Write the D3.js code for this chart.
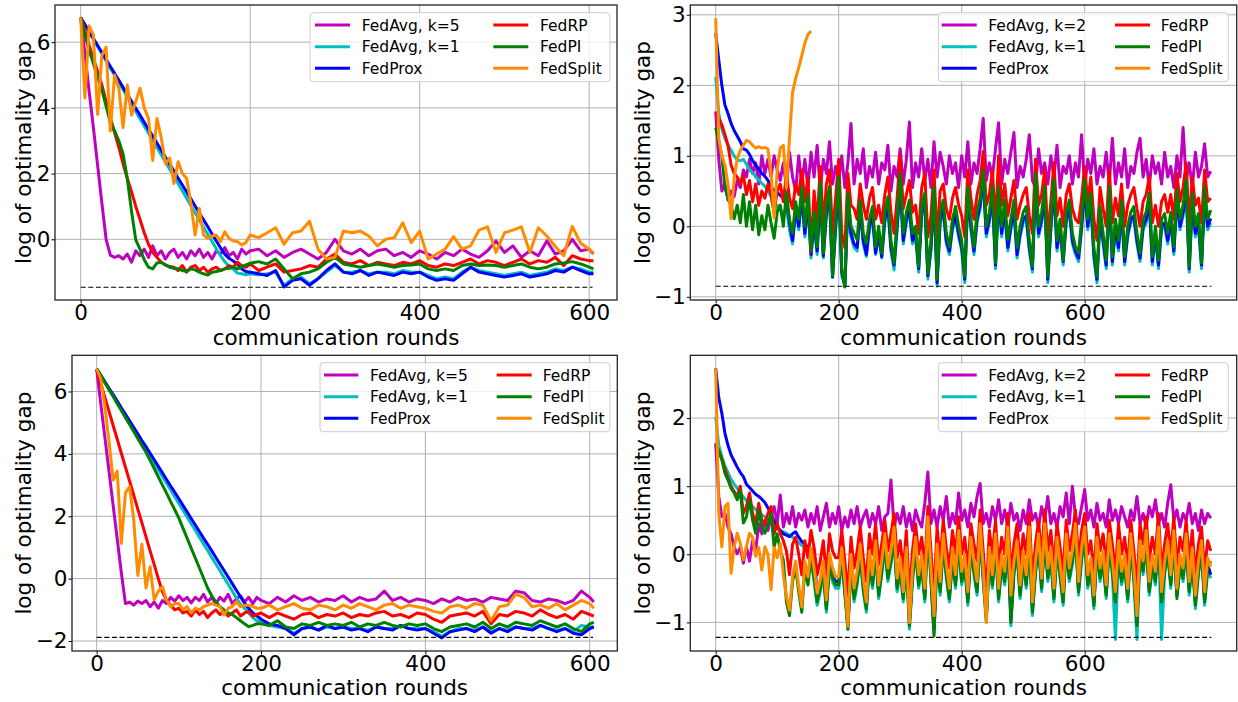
<!DOCTYPE html>
<html><head><meta charset="utf-8">
<script src="https://cdn.jsdelivr.net/npm/d3@7"></script>
<style>body{margin:0;background:#fff}svg{display:block}</style>
</head><body>
<svg id="c" width="1238" height="702"></svg>
<script>
// ---------- rounds (x positions of the samples) ----------
const roundsA = [...d3.range(0,200,5), ...d3.range(200,601,10), 605];
const roundsB = d3.range(0,806,5);
const xTicks = [0,200,400,600];
const labelsK5 = ["FedAvg, k=5","FedAvg, k=1","FedProx","FedRP","FedPI","FedSplit"];
const labelsK2 = ["FedAvg, k=2","FedAvg, k=1","FedProx","FedRP","FedPI","FedSplit"];
const optTL=-1.46, optTR=-0.85, optBL=-1.88, optBR=-1.22;

// ---------- top-left ----------
const tlFedAvgK=[6.75,5.65,4.5,3.4,2.25,1.1,0,-.48,-.55,-.5,
-.6,-.45,-.7,-.35,-.5,-.3,-.55,-.2,-.5,-.35,
-.6,-.4,-.3,-.55,-.4,-.6,-.35,-.5,-.3,-.55,
-.4,-.6,-.35,-.45,-.25,-.5,-.4,-.6,-.3,-.45,
-.35,-.3,-.5,-.35,-.55,-.4,-.3,-.45,-.6,-.4,
0,-.35,-.45,-.3,-.5,-.35,-.3,-.5,-.4,-.55,
-.35,-.45,-.6,-.4,-.5,-.3,-.45,-.55,-.35,-.05,
-.4,-.2,-.55,-.35,-.5,-.05,-.45,-.35,0,-.35,
-.3,-.45];
const tlFedAvg1=[6.75,6.53,6.31,6.09,5.87,5.65,5.43,5.21,4.99,4.77,
4.55,4.33,4.11,3.89,3.67,3.45,3.23,3.01,2.79,2.57,
2.35,2.13,1.91,1.69,1.47,1.25,1.03,.81,.59,.37,
.15,-.07,-.29,-.5,-.68,-.82,-.9,-1.03,-1.05,-1.08,
-1.05,-1.08,-1.05,-1,-1.4,-1.2,-1.15,-1.35,-1.2,-1,
-.8,-1,-1,-.95,-1.05,-1,-1,-1.05,-.95,-1,
-1,-1.1,-1.2,-1.15,-1.2,-1,-.85,-.95,-1,-1.05,
-1.1,-1.05,-1,-1.1,-1.05,-1,-.9,-.95,-.85,-.9,
-1,-1];
const tlFedProx=[6.75,6.54,6.33,6.11,5.9,5.69,5.48,5.26,5.05,4.84,
4.63,4.41,4.2,3.99,3.78,3.56,3.35,3.14,2.93,2.71,
2.5,2.29,2.08,1.86,1.65,1.44,1.23,1.01,.8,.59,
.38,.16,-.05,-.26,-.45,-.58,-.66,-.76,-.9,-.98,
-1,-1.05,-1.1,-.95,-1.45,-1.25,-1.2,-1.4,-1.2,-.95,
-.75,-1,-1.05,-.95,-1.1,-1,-1.05,-1.1,-1,-1.05,
-1,-1.15,-1.25,-1.2,-1.25,-1.05,-.85,-1,-1.05,-1.1,
-1.15,-1.1,-1.05,-1.15,-1.1,-1.05,-.95,-1,-.85,-.95,
-1.05,-1.05];
const tlFedRP=[6.75,6.35,5.9,5.5,5.1,4.7,4.2,3.7,3.25,2.8,
2.3,1.85,1.45,1,.6,.2,-.15,-.4,-.55,-.7,
-.78,-.83,-.85,-.95,-.8,-1,-.85,-.8,-.95,-.85,
-1,-.9,-.85,-.95,-.9,-.8,-.85,-.7,-.8,-.85,
-.75,-.95,-.85,-.75,-1,-.95,-.9,-.8,-.85,-.6,
-.45,-.7,-.75,-.65,-.8,-.7,-.75,-.8,-.7,-.75,
-.65,-.8,-.85,-.75,-.8,-.7,-.6,-.75,-.65,-.7,
-.8,-.7,-.6,-.75,-.65,-.7,-.55,-.8,-.5,-.6,
-.65,-.65];
const tlFedPI=[6.75,6.2,5.75,5.35,4.95,4.55,4.05,3.55,3.3,3,
2.6,1.85,.85,-.02,-.3,-.62,-.85,-.9,-.72,-.7,
-.78,-.85,-.88,-.9,-.95,-.98,-.9,-.93,-1,-1.05,
-1.09,-1,-.98,-.95,-.9,-.88,-.85,-.9,-.83,-.78,
-.73,-.68,-.75,-.6,-.9,-1.2,-1.05,-1,-.9,-.7,
-.55,-.75,-.8,-.85,-.8,-.75,-.8,-.85,-.8,-.78,
-.75,-.9,-.95,-.9,-.95,-.8,-.75,-.8,-.78,-.8,
-.85,-.8,-.75,-.85,-.9,-.85,-.75,-.72,-.68,-.75,
-.85,-.9];
const tlFedSplit=[6.75,4.3,6.5,6.22,3.8,5.6,5.85,3.3,5,4.6,
3.4,4.7,3.78,4.2,4.6,4,3.68,2.4,3.68,3.1,
2.3,2.47,1.7,2.36,2,1.86,1.1,.13,.94,.13,
.03,.1,.13,-.07,.23,.03,-.05,-.07,-.17,-.1,
.13,.05,.2,.35,-.15,.2,.25,.55,-.3,-.6,
-.55,.25,.2,.25,.1,-.2,0,.05,.5,-.1,
.25,-.6,-.45,-.3,.08,-.3,-.2,.28,.38,-.4,
.2,.28,.38,-.4,.35,.1,-.22,-.5,.39,-.12,
-.3,-.43];

// ---------- bottom-left ----------
const blFedAvgK=[6.7,5.6,4.52,3.44,2.35,1.27,.18,-.8,-.75,-.85,
-.72,-.8,-.7,-.9,-.75,-.95,-.7,-.8,-.6,-.72,
-.55,-.7,-.6,-.78,-.6,-.7,-.5,-.75,-.6,-.8,
-.6,-.72,-.5,-.8,-.65,-.55,-.75,-.6,-.8,-.6,
-.7,-.8,-.6,-.75,-.55,-.7,-.6,-.75,-.65,-.7,
-.55,-.75,-.6,-.7,-.65,-.4,-.7,-.6,-.75,-.65,
-.7,-.8,-.65,-.75,-.6,-.7,-.65,-.75,-.6,-.65,
-.7,-.4,-.45,-.7,-.75,-.65,-.7,-.8,-.7,-.4,
-.6,-.75];
const blFedAvg1=[6.73,6.51,6.3,6.08,5.87,5.65,5.43,5.22,5,4.79,
4.57,4.35,4.14,3.92,3.71,3.49,3.27,3.06,2.84,2.63,
2.41,2.19,1.98,1.76,1.55,1.33,1.11,.9,.68,.47,
.25,.03,-.18,-.4,-.62,-.83,-.95,-1.1,-1.25,-1.35,
-1.4,-1.5,-1.55,-1.6,-1.75,-1.6,-1.55,-1.65,-1.55,-1.6,
-1.55,-1.6,-1.6,-1.65,-1.55,-1.6,-1.6,-1.5,-1.6,-1.6,
-1.6,-1.7,-1.85,-1.7,-1.6,-1.6,-1.65,-1.55,-1.7,-1.6,
-1.65,-1.55,-1.6,-1.6,-1.5,-1.6,-1.65,-1.6,-1.7,-1.5,
-1.55,-1.55];
const blFedProx=[6.73,6.52,6.31,6.1,5.9,5.69,5.48,5.27,5.06,4.85,
4.64,4.43,4.23,4.02,3.81,3.6,3.39,3.18,2.97,2.77,
2.56,2.35,2.14,1.93,1.72,1.51,1.3,1.1,.89,.68,
.47,.26,.05,-.16,-.37,-.58,-.79,-.95,-1.1,-1.2,
-1.3,-1.45,-1.5,-1.6,-1.8,-1.6,-1.55,-1.65,-1.5,-1.6,
-1.55,-1.65,-1.6,-1.7,-1.55,-1.6,-1.65,-1.5,-1.6,-1.65,
-1.6,-1.75,-1.9,-1.7,-1.65,-1.6,-1.7,-1.55,-1.75,-1.6,
-1.7,-1.55,-1.6,-1.65,-1.5,-1.6,-1.7,-1.6,-1.75,-1.8,
-1.6,-1.55];
const blFedRP=[6.7,6.25,5.81,5.36,4.91,4.47,4.02,3.57,3.13,2.68,
2.23,1.79,1.34,.89,.45,0,-.42,-.7,-.85,-1,
-.95,-1.1,-1.05,-1.2,-1,-1.15,-1.05,-1.25,-1.1,-1,
-1.15,-1.05,-1.2,-1.1,-1,-1.2,-1.1,-1.05,-1.2,-1.15,
-1.1,-1.25,-1.1,-1.2,-1.3,-1.15,-1.1,-1.25,-1.15,-1.2,
-1.1,-1.25,-1.15,-1.2,-1.1,-1.05,-1.2,-1.15,-1.25,-1.1,
-1.15,-1.3,-1.4,-1.2,-1.15,-1.1,-1.2,-1.05,-1.45,-1.15,
-1.2,-1.05,-1.1,-1.2,-1,-1.15,-1.25,-1.15,-1.3,-1.05,
-1.15,-1.2];
const blFedPI=[6.73,6.51,6.28,6.06,5.84,5.61,5.39,5.16,4.94,4.72,
4.49,4.27,4.05,3.79,3.53,3.26,3,2.74,2.47,2.21,
1.94,1.62,1.3,.98,.66,.34,.02,-.3,-.55,-.75,
-.9,-1,-1.1,-1.15,-1.25,-1.35,-1.45,-1.54,-1.5,-1.45,
-1.45,-1.5,-1.35,-1.55,-1.6,-1.45,-1.5,-1.4,-1.5,-1.45,
-1.5,-1.4,-1.55,-1.45,-1.5,-1.4,-1.5,-1.55,-1.45,-1.5,
-1.45,-1.6,-1.7,-1.55,-1.5,-1.45,-1.55,-1.4,-1.6,-1.45,
-1.55,-1.4,-1.45,-1.5,-1.35,-1.45,-1.55,-1.45,-1.6,-1.7,
-1.45,-1.4];
const blFedSplit=[6.73,6.4,5.5,4.4,3.16,3.45,1.13,2.75,2.95,1.9,
.1,1.1,-.3,.38,-.68,-.4,-.26,-.68,-.9,-.8,
-.8,-1,-.9,-1.1,-.95,-1,-.9,-.85,-.8,-.85,
-.9,-1.16,-.95,-.9,-.74,-.9,-.85,-.85,-.9,-.95,
-.95,-.85,-1,-.9,-.8,-.95,-1,-.85,-.9,-1,
-.85,-.95,-.8,-.9,-1,-.85,-.8,-.95,-.85,-.9,
-.95,-1.05,-1.1,-.9,-.85,-.95,-.8,-.85,-1.35,-.9,
-.85,-.5,-.6,-.9,-.85,-.95,-.8,-1,-.85,-.7,
-.8,-.95];

// ---------- top-right ----------
const trFedAvgK=[1.63,.95,.5,.6,.37,.5,.42,.65,.55,.8,
.7,.95,.75,.9,.6,1,.75,.95,.7,1,
.8,.65,.9,.55,1.05,.7,.5,1,.6,.95,
.55,1.05,.7,1.15,.5,.95,.75,1.2,.6,.85,
.65,1,.55,.9,1.46,.6,.95,.75,1.1,.55,
.85,.7,1.05,.6,.9,.8,1.15,.5,.85,.7,
1.1,.6,.95,1.48,.55,.9,.7,1.1,.65,.95,
.55,1.2,.7,1.05,.85,.6,1,.75,.9,.55,
1,.7,1.2,.6,.9,.75,1.1,1.53,.65,.9,
.7,1.1,1.47,.6,.95,.75,1.05,1.33,.55,.85,
.7,.95,1.3,.65,.55,1.1,.75,.9,.6,1,
.7,1.15,.55,.85,.75,1,.6,.9,.7,1.3,
.55,.95,.75,1.1,.6,.85,.7,1.05,.6,1.25,
.6,.9,.7,1.1,.55,.85,.75,1.05,1.25,.7,
.95,.55,1,.75,.9,.6,1.05,.7,.85,.55,
1,.7,1.4,.65,.9,.55,1.05,.7,.85,1.17,
.7,.78];
const trFedAvg1=[2.12,1.6,1.38,1.25,1.15,1.08,1,.94,.93,.95,
.88,.8,.76,.7,.66,.61,.57,.5,.42,.2,
.3,.25,.15,.28,-.05,-.25,.2,-.05,.4,-.15,
.3,-.45,.05,-.4,.45,-.45,.15,.4,-.72,-.05,
.55,-.7,-.83,.3,-.15,-.3,-.35,.2,-.25,-.43,
-.05,.1,-.4,-.15,-.45,.05,.25,-.35,-.62,-.05,
.55,-.25,.05,.2,-.25,-.15,-.65,.15,.3,-.75,
-.35,.4,-.85,.05,.2,-.25,-.4,-.05,.1,-.15,
-.35,-.8,.4,-.05,-.4,.05,.25,.65,-.15,.05,
.4,-.6,.4,-.15,.2,-.35,-.05,.2,-.45,-.15,
.05,.1,-.35,-.65,.55,-.15,.05,.4,-.8,-.05,
.5,-.35,-.05,-.55,.05,.2,-.25,-.4,-.5,-.05,
.5,-.05,.3,-.45,-.8,.1,-.25,-.6,.4,-.55,
-.05,-.35,.2,-.55,-.15,.05,.1,-.25,-.5,-.05,
.05,.3,-.55,-.15,-.6,-.05,0,-.25,.05,-.4,
.35,-.05,.15,.5,-.65,.3,-.15,0,-.6,.4,
-.05,.05];
const trFedProx=[2.74,2.36,2,1.72,1.6,1.46,1.36,1.28,1.2,1.1,
1.08,1.02,.93,.87,.81,.75,.71,.65,.56,.51,
.48,.44,.4,.38,.05,-.2,.25,0,.45,-.1,
.35,-.4,.1,-.35,.5,-.42,.2,.45,-.72,0,
.6,-.65,-.85,.35,-.1,-.25,-.3,.25,-.2,-.4,
0,.15,-.38,-.1,-.43,.1,.3,-.3,-.55,0,
.6,-.2,.1,.25,-.2,-.1,-.6,.2,.35,-.7,
-.3,.45,-.8,.1,.25,-.2,-.35,0,.15,-.1,
-.3,-.75,.45,0,-.35,.1,.3,.7,-.1,.1,
.45,-.55,.45,-.1,.25,-.3,0,.25,-.4,-.1,
.1,.15,-.3,-.6,.6,-.1,.1,.45,-.75,0,
.55,-.3,0,-.5,.1,.25,-.2,-.35,-.45,0,
.55,0,.35,-.4,-.75,.15,-.2,-.55,.45,-.5,
0,-.3,.25,-.5,-.1,.1,.15,-.2,-.45,0,
.1,.35,-.5,-.1,-.55,0,.05,-.2,.1,-.35,
.4,0,.2,.55,-.6,.35,-.1,.05,-.55,.45,
0,.11];
const trFedRP=[1.6,1.53,1.44,1.3,1.15,.87,.75,.7,.6,.72,
.45,.65,.35,.6,.3,.5,.4,.6,.45,.2,
.5,.6,.35,.75,.4,.25,.6,.45,.8,.35,
.7,-.36,.5,.05,.85,0,.6,.8,-.1,.4,
.95,-.1,-.3,.75,.3,.25,.1,.6,.3,.1,
.4,.55,.1,.3,.05,.45,.7,.2,-.1,.4,
1,.25,.45,.65,.2,.3,-.1,.55,.75,-.15,
.15,.8,-.2,.5,.6,.25,.1,.4,.55,.3,
.15,-.15,.8,.4,.1,.45,.65,1.06,.3,.45,
.8,0,1,.3,.6,.15,.4,.65,.1,.3,
.45,.55,.15,-.1,.95,.3,.45,.8,-.15,.35,
.9,.15,.4,0,.45,.6,.25,.1,.05,.4,
.85,.35,.7,.1,-.2,.55,.25,0,.8,.05,
.4,.15,.6,0,.3,.45,.55,.25,0,.35,
.45,.7,.05,.3,0,.35,.45,.2,.45,.1,
.75,.35,.55,.9,0,.7,.3,.4,.05,.8,
.35,.4];
const trFedPI=[1.4,1.2,1,.55,.4,.3,.11,.3,.05,.45,
0,.35,-.05,.3,-.12,.15,-.05,.3,.05,-.17,
.2,.3,0,.49,.1,-.1,.35,.1,.56,0,
.45,-.34,.2,-.29,.62,-.38,.3,.56,-.7,.1,
.7,-.6,-.86,.47,0,-.1,-.19,.37,-.1,-.24,
.1,.28,-.29,0,-.38,.2,.42,-.2,-.52,.1,
.75,-.1,.2,.37,-.1,0,-.57,.3,.47,-.67,
-.2,.56,-.75,.2,.37,-.1,-.29,.1,.28,0,
-.2,-.71,.56,.1,-.29,.2,.4,.8,0,.2,
.56,-.52,.56,0,.37,-.19,.1,.37,-.3,0,
.2,.28,-.2,-.57,.75,0,.2,.56,-.71,.1,
.66,-.2,.1,-.48,.2,.37,-.1,-.29,-.38,.1,
.66,.1,.47,-.3,-.71,.28,-.1,-.48,.56,-.43,
.1,-.2,.37,-.43,0,.2,.28,-.1,-.38,.1,
.2,.47,-.43,0,-.48,.1,.18,-.1,.2,-.29,
.52,.1,.3,.66,-.57,.47,0,.18,-.52,.56,
.1,.23];
const trFedSplit=[2.95,1.25,1,.87,.6,.11,.68,.96,1.08,1.15,
1.22,1.2,1.15,1.11,1.13,1.11,1.12,1.1,.75,.12,
.8,1.11,1.15,.55,1.25,1.9,2.1,2.25,2.42,2.6,
2.72,2.77];

// ---------- bottom-right ----------
const brFedAvgK=[1.63,.85,.55,.6,.4,.3,.11,.01,.1,-.13,
.11,-.1,.2,.05,.45,.3,.5,.35,.55,.7,
.45,.87,.4,.6,.45,.7,.4,.6,.5,.65,
.4,.6,.45,.7,.35,.55,.75,.4,.6,.45,
.7,.35,.55,.4,.65,.45,.7,.4,.55,.65,
.4,.6,.45,.7,.35,.55,.6,1.09,.4,.6,
.45,.7,.4,.6,.35,.65,.5,.4,.75,1.21,
.45,.65,.4,.7,.5,.85,.4,.6,.45,.9,
.5,.65,.4,.75,.55,.85,1.04,.45,.6,.4,
.7,.5,.8,.45,.65,.4,.75,.5,.6,.35,
.65,.45,.8,.5,.6,.4,.7,.5,.85,.45,
.6,.4,.7,.55,.9,.45,1,.55,.45,.7,
.95,.5,.65,.4,.75,.5,.6,.4,.8,.5,
.65,.45,.7,.55,.4,.65,.5,.85,.45,.6,
.4,.7,.55,.8,.45,.6,.4,.75,1.02,.5,
.65,.4,.6,.5,.75,.45,.6,.35,.65,.45,
.6,.53];
const brFedAvg1=[2.02,1.6,1.43,1.3,1.2,1.1,1.03,.97,.9,.84,
.79,.75,.7,.66,.61,.58,.55,.52,.5,.45,
.38,.35,.33,.31,.28,.25,.21,.17,.13,.1,
.06,-.1,-.4,-.75,-.55,-.3,-.85,-.2,-.4,-.5,
-.5,-.1,-.6,-1.1,-.2,-.7,-.45,-.05,-.55,-.85,
-.15,-.5,0,-.65,-.3,.1,-.4,-.15,.2,-.55,
-.25,-.7,-.1,-1.1,-.4,.05,-.5,-.2,-.7,.35,
-.4,-1.15,-.05,-.6,.1,-.35,-.7,-.1,-.5,.15,
-.45,-.2,-.75,.05,-.3,-.6,.25,-.4,-1,-.1,
-.5,.1,-.7,-.2,-.45,.2,-1.05,-.3,0,-.65,
-.15,-.5,.2,-.9,-.3,.1,-.55,.25,-.4,-.1,
-.7,.05,-.35,-.75,.1,-.4,-.15,.25,-.6,-.1,
.2,-.5,-.25,-.8,.05,-.4,-.15,-.65,.1,-.3,
-1.25,0,-.45,-.2,-.7,.1,-.4,-1.25,0,-.3,
.15,-.6,-.2,-.45,.2,-1.25,-.3,0,-.5,.15,
-.6,-.2,-.4,.1,-.6,-.1,-.8,-.3,0,-.75,
-.25,-.35];
const brFedProx=[2.73,2.3,2.07,1.78,1.6,1.46,1.37,1.28,1.2,1.14,
1.03,.98,.93,.88,.85,.81,.76,.68,.6,.48,
.4,.35,.3,.28,.26,.3,.33,.25,.19,.15,
.11,.08,.06,-.65,-.45,-.2,-.75,-.1,-.3,-.4,
-.4,0,-.5,-1.05,-.1,-.6,-.35,.05,-.45,-.75,
-.05,-.4,.1,-.55,-.2,.2,-.3,-.05,.3,-.45,
-.15,-.6,0,-1,-.3,.15,-.4,-.1,-.6,.45,
-.3,-1.1,.05,-.5,.2,-.25,-.6,0,-.4,.25,
-.35,-.1,-.65,.15,-.2,-.5,.35,-.3,-.9,0,
-.4,.2,-.6,-.1,-.35,.3,-.95,-.2,.1,-.55,
-.05,-.4,.3,-.8,-.2,.2,-.45,.35,-.3,0,
-.6,.15,-.25,-.65,.2,-.3,-.05,.35,-.5,0,
.3,-.4,-.15,-.7,.15,-.3,-.05,-.55,.2,-.2,
-.65,.1,-.35,-.1,-.6,.2,-.3,-1,.1,-.2,
.25,-.5,-.1,-.35,.3,-.65,-.2,.1,-.4,.25,
-.6,-.1,-.3,.2,-.5,0,-.7,-.2,.1,-.65,
-.15,-.3];
const brFedRP=[1.6,1.5,1.4,1.25,1.12,1,.92,.85,1,.6,
.7,.9,.6,.45,.75,.5,.45,.6,.7,.3,
.45,.3,.2,.05,-.3,.15,.25,0,-.3,.2,
-.05,.35,.1,-.3,-.1,.2,-.35,.3,.05,-.05,
-.05,.35,-.1,-.6,.25,-.2,.05,.4,-.05,-.4,
.3,0,.45,-.15,.15,.5,.05,.3,.6,-.05,
.2,-.25,.35,-.6,.05,.45,0,.25,-.2,.7,
.05,-.6,.4,-.1,.5,.1,-.2,.35,0,.55,
0,.25,-.25,.45,.15,-.1,.65,.05,-.6,.35,
0,.5,-.2,.25,0,.6,-.3,.15,.45,-.15,
.3,0,.6,-.4,.15,.5,-.05,.65,.05,.35,
-.2,.45,.1,-.25,.5,.05,.3,.65,-.1,.35,
.6,0,.2,-.3,.45,.05,.3,-.15,.5,.15,
-.25,.45,0,.25,-.2,.5,.05,-.5,.45,.15,
.55,-.1,.25,0,.6,-.25,.15,.45,0,.55,
-.2,.25,.05,.5,-.1,.35,-.3,.15,.4,-.25,
.2,.05];
const brFedPI=[1.6,1.53,1.39,1.19,1.09,.97,.9,.8,.94,.46,
.55,.8,.5,.31,.65,.4,.31,.45,.6,.11,
.3,.05,-.08,-.7,-.9,-.4,-.2,-.55,-.85,-.2,
-.45,-.05,-.35,-.7,-.5,-.25,-.8,-.15,-.35,-.45,
-.45,-.05,-.55,-1.1,-.15,-.65,-.4,0,-.5,-.8,
-.1,-.45,.05,-.6,-.25,.15,-.35,-.1,.25,-.5,
-.2,-.65,-.05,-1.05,-.35,.1,-.45,-.15,-.65,.4,
-.35,-1.2,0,-.55,.15,-.3,-.65,-.05,-.45,.2,
-.4,-.15,-.7,.1,-.25,-.55,.3,-.35,-.95,-.05,
-.45,.15,-.65,-.15,-.4,.25,-1,-.25,.05,-.6,
-.1,-.45,.25,-.85,-.25,.15,-.5,.3,-.35,-.05,
-.65,.1,-.3,-.7,.15,-.35,-.1,.3,-.55,-.05,
.25,-.45,-.2,-.75,.1,-.35,-.1,-.6,.15,-.25,
-.7,.05,-.4,-.15,-.65,.15,-.35,-1.05,.05,-.25,
.2,-.55,-.15,-.4,.25,-.7,-.25,.05,-.45,.2,
-.65,-.15,-.35,.15,-.55,-.05,-.75,-.25,.05,-.7,
-.2,-.1];
const brFedSplit=[2.73,.6,.11,.7,.75,-.28,.11,.31,.16,-.08,
.11,.31,.25,-.03,.1,-.23,.11,0,-.52,.1,
-.05,.16,-.3,-.62,-.82,-.33,-.1,-.47,-.77,-.1,
-.33,.1,-.2,-.57,-.38,-.1,-.67,.01,-.2,-.33,
-.33,.1,-.4,-1.06,0,-.5,-.25,.15,-.35,-.7,
.05,-.3,.2,-.45,-.1,.3,-.2,.05,.4,-.35,
-.05,-.55,.1,-1,-.2,.25,-.3,0,-.5,.55,
-.2,-.9,.15,-.4,.3,-.15,-.5,.1,-.3,.35,
-.25,0,-.55,.25,-.1,-.4,.45,-.2,-1,.1,
-.3,.3,-.5,0,-.25,.4,-.6,-.1,.2,-.45,
.05,-.3,.4,-.7,-.1,.3,-.35,.45,-.2,.1,
-.5,.25,-.15,-.55,.3,-.2,.05,.45,-.4,.1,
.4,-.3,-.05,-.6,.25,-.2,.05,-.45,.3,-.1,
-.55,.2,-.25,0,-.5,.3,-.2,-.9,.2,-.1,
.35,-.4,0,-.25,.4,-.55,-.1,.2,-.3,.35,
-.5,0,-.2,.3,-.4,.1,-.6,-.1,.2,-.55,
-.05,-.18];

// ---------- drawing ----------
const colors=["#bf00bf","#00bfbf","#0000ff","#ff0000","#008000","#ff8c00"];
const FONT='"DejaVu Sans", sans-serif';
const svg=d3.select("#c");
const intFmt=d3.format("d");

const panels=[
 {id:"tl",rounds:roundsA,series:[tlFedAvgK,tlFedAvg1,tlFedProx,tlFedRP,tlFedPI,tlFedSplit],labels:labelsK5,
  l:55,r:617,t:5,b:300,xDom:[-30.3,632.8],yDom:[-1.848,7.132],yTicks:[0,2,4,6],opt:optTL,optEnd:604,
  ylabX:31,xlabY:345,
  lg:{x:310,y:12.7,w:300,h:69,rows:[12.3,34,55.6],cols:[[315,350,361.7],[493.3,528.3,540]]}},
 {id:"tr",rounds:roundsB,series:[trFedAvgK,trFedAvg1,trFedProx,trFedRP,trFedPI,trFedSplit],labels:labelsK2,
  l:690.3,r:1236.7,t:5,b:300,xDom:[-41.3,847.2],yDom:[-1.045,3.139],yTicks:[-1,0,1,2,3],opt:optTR,optEnd:806,
  ylabX:650,xlabY:345,
  lg:{x:938.3,y:12.7,w:290,h:69,rows:[12.3,34,55.6],cols:[[941.7,976.7,988.3],[1115,1150,1160.7]]}},
 {id:"bl",rounds:roundsA,series:[blFedAvgK,blFedAvg1,blFedProx,blFedRP,blFedPI,blFedSplit],labels:labelsK5,
  l:72,r:617.3,t:355.3,b:651,xDom:[-30.06,633.6],yDom:[-2.32,7.16],yTicks:[-2,0,2,4,6],opt:optBL,optEnd:604,
  ylabX:31,xlabY:695,
  lg:{x:320,y:362.7,w:290,h:69,rows:[12.3,34,55.6],cols:[[324,358.3,370],[496.7,531.7,542.7]]}},
 {id:"br",rounds:roundsB,series:[brFedAvgK,brFedAvg1,brFedProx,brFedRP,brFedPI,brFedSplit],labels:labelsK2,
  l:690.3,r:1236.7,t:355.3,b:651,xDom:[-41.3,847.2],yDom:[-1.42,2.922],yTicks:[-1,0,1,2],opt:optBR,optEnd:806,
  ylabX:650,xlabY:695,
  lg:{x:938.3,y:362.7,w:290,h:69,rows:[12.3,34,55.6],cols:[[941.7,976.7,988.3],[1115,1150,1160.7]]}}
];

panels.forEach(p=>{
  const x=d3.scaleLinear().domain(p.xDom).range([p.l,p.r]);
  const y=d3.scaleLinear().domain(p.yDom).range([p.b,p.t]);
  const g=svg.append("g");
  svg.append("clipPath").attr("id","clip-"+p.id).append("rect")
    .attr("x",p.l).attr("y",p.t).attr("width",p.r-p.l).attr("height",p.b-p.t);
  // grid
  const grid=g.append("g").attr("stroke","#b0b0b0").attr("stroke-width",1);
  xTicks.forEach(v=>grid.append("line").attr("x1",x(v)).attr("x2",x(v)).attr("y1",p.t).attr("y2",p.b));
  p.yTicks.forEach(v=>grid.append("line").attr("x1",p.l).attr("x2",p.r).attr("y1",y(v)).attr("y2",y(v)));
  // series
  const plot=g.append("g").attr("clip-path",`url(#clip-${p.id})`);
  const line=d3.line().x(d=>x(d[0])).y(d=>y(d[1]));
  p.series.forEach((vals,i)=>{
    const pts=vals.slice(0,p.rounds.length).map((v,j)=>[p.rounds[j],v]);
    plot.append("path").datum(pts).attr("d",line).attr("fill","none")
      .attr("stroke",colors[i]).attr("stroke-width",3).attr("stroke-linejoin","round");
  });
  // optimum reference
  plot.append("line").attr("x1",x(0)).attr("x2",x(p.optEnd)).attr("y1",y(p.opt)).attr("y2",y(p.opt))
    .attr("stroke","#000").attr("stroke-width",1.2).attr("stroke-dasharray","5,2.6");
  // axes
  const xa=g.append("g").attr("transform",`translate(0,${p.b})`)
    .call(d3.axisBottom(x).tickValues(xTicks).tickFormat(intFmt).tickSize(3.5).tickPadding(1.5));
  const ya=g.append("g").attr("transform",`translate(${p.l},0)`)
    .call(d3.axisLeft(y).tickValues(p.yTicks).tickFormat(intFmt).tickSize(3.5).tickPadding(1));
  [xa,ya].forEach(a=>{
    a.select(".domain").remove();
    a.selectAll("line").attr("stroke","#000").attr("stroke-width",1);
    a.selectAll("text").attr("font-size",21.5).attr("font-family",FONT).attr("fill","#000");
  });
  // spines
  g.append("rect").attr("x",p.l).attr("y",p.t).attr("width",p.r-p.l).attr("height",p.b-p.t)
    .attr("fill","none").attr("stroke","#222").attr("stroke-width",1.3);
  // axis labels
  g.append("text").attr("x",(p.l+p.r)/2).attr("y",p.xlabY).attr("text-anchor","middle")
    .attr("font-family",FONT).attr("font-size",21.5).text("communication rounds");
  g.append("text").attr("transform",`translate(${p.ylabX},${(p.t+p.b)/2}) rotate(-90)`)
    .attr("text-anchor","middle").attr("font-family",FONT).attr("font-size",21.5).text("log of optimality gap");
  // legend
  const L=p.lg, lg=g.append("g");
  lg.append("rect").attr("x",L.x).attr("y",L.y).attr("width",L.w).attr("height",L.h).attr("rx",3.5)
    .attr("fill","#fff").attr("fill-opacity",0.8).attr("stroke","#cccccc").attr("stroke-width",1);
  p.labels.forEach((lab,i)=>{
    const c=L.cols[Math.floor(i/3)], cy=L.y+L.rows[i%3];
    lg.append("line").attr("x1",c[0]).attr("x2",c[1]).attr("y1",cy).attr("y2",cy)
      .attr("stroke",colors[i]).attr("stroke-width",3);
    lg.append("text").attr("x",c[2]).attr("y",cy).attr("dy","0.36em").attr("font-family",FONT)
      .attr("font-size",15.5).attr("fill","#000").text(lab);
  });
});
</script>
</body></html>
